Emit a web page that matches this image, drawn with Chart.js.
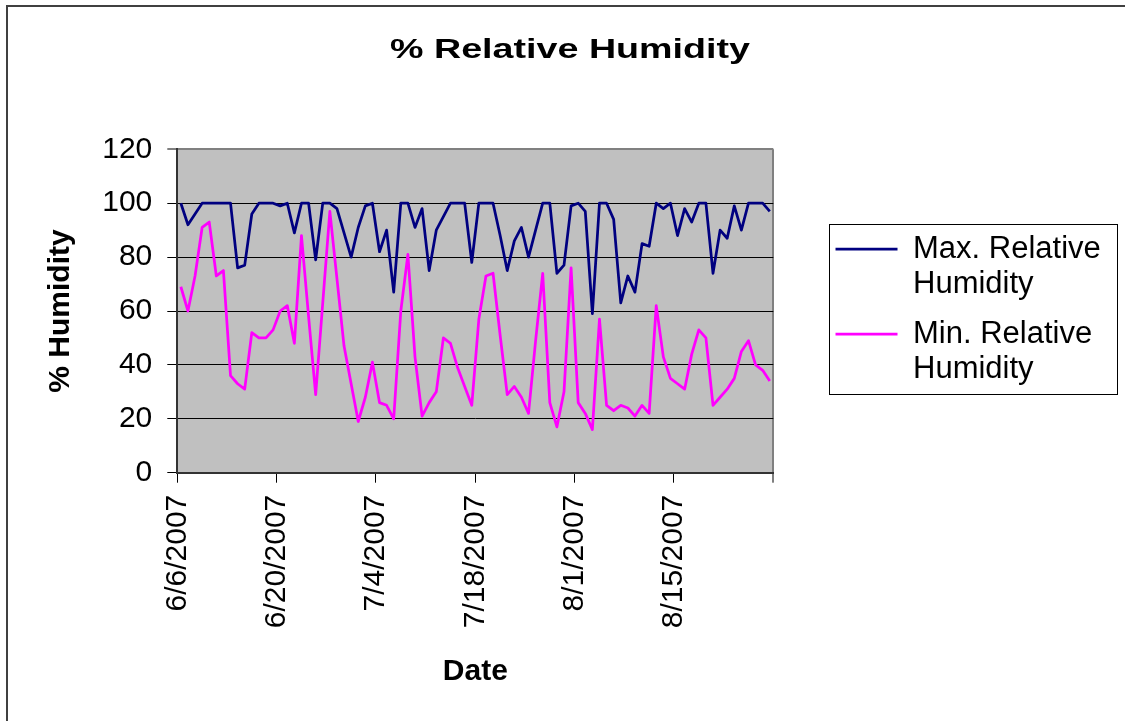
<!DOCTYPE html>
<html>
<head>
<meta charset="utf-8">
<title>% Relative Humidity</title>
<script src="https://cdn.jsdelivr.net/npm/chart.js@4.4.0/dist/chart.umd.min.js"></script>
<style>
    html, body { margin: 0; padding: 0; background: #fff; }
    canvas { display: block; }
</style>
</head>
<body>
<canvas id="humidityChart" width="1125" height="721"></canvas>
<script>
/* Data */
const dates = [
    '6/6/2007', '6/7/2007', '6/8/2007', '6/9/2007', '6/10/2007', '6/11/2007', '6/12/2007',
    '6/13/2007', '6/14/2007', '6/15/2007', '6/16/2007', '6/17/2007', '6/18/2007', '6/19/2007',
    '6/20/2007', '6/21/2007', '6/22/2007', '6/23/2007', '6/24/2007', '6/25/2007', '6/26/2007',
    '6/27/2007', '6/28/2007', '6/29/2007', '6/30/2007', '7/1/2007', '7/2/2007', '7/3/2007',
    '7/4/2007', '7/5/2007', '7/6/2007', '7/7/2007', '7/8/2007', '7/9/2007', '7/10/2007',
    '7/11/2007', '7/12/2007', '7/13/2007', '7/14/2007', '7/15/2007', '7/16/2007', '7/17/2007',
    '7/18/2007', '7/19/2007', '7/20/2007', '7/21/2007', '7/22/2007', '7/23/2007', '7/24/2007',
    '7/25/2007', '7/26/2007', '7/27/2007', '7/28/2007', '7/29/2007', '7/30/2007', '7/31/2007',
    '8/1/2007', '8/2/2007', '8/3/2007', '8/4/2007', '8/5/2007', '8/6/2007', '8/7/2007',
    '8/8/2007', '8/9/2007', '8/10/2007', '8/11/2007', '8/12/2007', '8/13/2007', '8/14/2007',
    '8/15/2007', '8/16/2007', '8/17/2007', '8/18/2007', '8/19/2007', '8/20/2007', '8/21/2007',
    '8/22/2007', '8/23/2007', '8/24/2007', '8/25/2007', '8/26/2007', '8/27/2007', '8/28/2007'
];

const max_rh = [
    100, 92, 96, 100, 100, 100, 100, 100, 76, 77, 96, 100, 100, 100,
    99, 100, 89, 100, 100, 79, 100, 100, 98, 89, 80, 91, 99, 100,
    82, 90, 67, 100, 100, 91, 98, 75, 90, 95, 100, 100, 100, 78,
    100, 100, 100, 88, 75, 86, 91, 80, 90, 100, 100, 74, 77, 99,
    100, 97, 59, 100, 100, 94, 63, 73, 67, 85, 84, 100, 98, 100,
    88, 98, 93, 100, 100, 74, 90, 87, 99, 90, 100, 100, 100, 97
];

const min_rh = [
    69, 60, 73, 91, 93, 73, 75, 36, 33, 31, 52, 50, 50, 53,
    60, 62, 48, 88, 58, 29, 63, 97, 72, 47, 33, 19, 28, 41,
    26, 25, 20, 60, 81, 43, 21, 26, 30, 50, 48, 39, 32, 25,
    57, 73, 74, 51, 29, 32, 28, 22, 49, 74, 26, 17, 30, 76,
    26, 22, 16, 57, 25, 23, 25, 24, 21, 25, 22, 62, 43, 35,
    33, 31, 44, 53, 50, 25, 28, 31, 35, 45, 49, 40, 38, 34
];

const tick_labels = ['6/6/2007', '6/20/2007', '7/4/2007', '7/18/2007', '8/1/2007', '8/15/2007'];
const series_names = [['Max. Relative', 'Humidity'], ['Min. Relative', 'Humidity']];
const chart_title = '% Relative Humidity';

const font_family = "'Liberation Sans', Arial, sans-serif";

/* Plot background, outer frame, title and legend frame */
const frame_plugin = {
    id: 'frame_plugin',
    beforeDraw(chart) {
        const { ctx, chartArea: a } = chart;
        ctx.save();
        ctx.fillStyle = '#c0c0c0';
        ctx.fillRect(a.left, a.top, a.right - a.left, a.bottom - a.top);
        ctx.strokeStyle = '#404040';
        ctx.lineWidth = 2;
        ctx.strokeRect(7, 6, 1300, 900);
        ctx.restore();
    },
    afterDraw(chart) {
        const ctx = chart.ctx;

        // the original title is drawn very wide, so stretch it sideways
        ctx.save();
        ctx.font = 'bold 27px ' + font_family;
        ctx.fillStyle = '#000';
        ctx.textAlign = 'center';
        ctx.textBaseline = 'alphabetic';
        const w = ctx.measureText(chart_title).width;
        ctx.translate(570, 58);
        ctx.scale(360 / w, 1);
        ctx.fillText(chart_title, 0, 0);
        ctx.restore();

        const boxes = chart.legend.legendHitBoxes;
        if (!boxes || !boxes.length) return;
        const first = boxes[0];
        const last = boxes[boxes.length - 1];
        ctx.save();
        ctx.strokeStyle = '#000';
        ctx.lineWidth = 1;
        const left = first.left - 7;
        const top = first.top - 10;
        const right = first.left + first.width + 16;
        const bottom = last.top + last.height + 5;
        ctx.strokeRect(Math.round(left) + 0.5, Math.round(top) + 0.5, Math.round(right - left), Math.round(bottom - top));
        ctx.restore();
    }
};

/* Create chart */
const my_chart = new Chart('humidityChart', {
    type: 'line',
    data: {
        datasets: [
            {
                label: series_names[0],
                data: dates.map((d, i) => ({ x: i + 0.5, y: max_rh[i] })),
                borderColor: '#000080',
                backgroundColor: '#000080',
                borderWidth: 2.75,
                borderJoinStyle: 'round',
                pointRadius: 0,
                tension: 0
            },
            {
                label: series_names[1],
                data: dates.map((d, i) => ({ x: i + 0.5, y: min_rh[i] })),
                borderColor: '#ff00ff',
                backgroundColor: '#ff00ff',
                borderWidth: 2.75,
                borderJoinStyle: 'round',
                pointRadius: 0,
                tension: 0
            }
        ]
    },
    options: {
        responsive: false,
        animation: false,
        events: [],
        layout: {
            padding: { top: 149.3, right: 14.2, bottom: 0, left: 0 }
        },
        scales: {
            x: {
                type: 'linear',
                position: 'bottom',
                min: 0,
                max: 84,
                ticks: {
                    stepSize: 14,
                    autoSkip: false,
                    minRotation: 90,
                    maxRotation: 90,
                    padding: 12,
                    color: '#000',
                    font: { family: font_family, size: 30 },
                    callback: (value) => tick_labels[value / 14] || ''
                },
                grid: {
                    drawOnChartArea: true,
                    color: (c) => (c.tick && c.tick.value === 84 ? '#808080' : 'rgba(0,0,0,0)'),
                    lineWidth: (c) => (c.tick && c.tick.value === 84 ? 2 : 1),
                    tickLength: 10,
                    tickColor: '#000',
                    tickWidth: 1
                },
                border: { color: '#333', width: 2 },
                title: {
                    display: true,
                    text: 'Date',
                    color: '#000',
                    font: { family: font_family, size: 30, weight: 'bold' },
                    padding: { top: 0, bottom: 31 }
                },
                afterFit(scale) { scale.height = 248.3; }
            },
            y: {
                type: 'linear',
                position: 'left',
                min: 0,
                max: 120,
                ticks: {
                    stepSize: 20,
                    padding: 15,
                    color: '#000',
                    font: { family: font_family, size: 30 }
                },
                grid: {
                    color: (c) => (c.tick && c.tick.value === 120 ? '#808080' : '#000'),
                    lineWidth: (c) => (c.tick && c.tick.value === 120 ? 2 : 1),
                    tickLength: 10,
                    tickColor: '#000',
                    tickWidth: 1
                },
                border: { color: '#333', width: 2 },
                title: {
                    display: true,
                    text: '% Humidity',
                    color: '#000',
                    font: { family: font_family, size: 30, weight: 'bold' },
                    padding: { top: 43, bottom: 0 }
                },
                afterFit(scale) { scale.width = 177.3; }
            },
            // empty space between the plot and the legend
            gap: {
                type: 'linear',
                position: 'right',
                display: true,
                grid: { display: false },
                ticks: { display: false },
                border: { display: false },
                afterFit(scale) { scale.width = 47.2; }
            }
        },
        plugins: {
            title: { display: false },
            tooltip: { enabled: false },
            legend: {
                position: 'right',
                fullSize: false,
                maxWidth: 400,
                labels: {
                    usePointStyle: true,
                    pointStyle: 'line',
                    pointStyleWidth: 62,
                    padding: 15,
                    color: '#000',
                    font: { family: font_family, size: 31, lineHeight: 35 / 31 }
                }
            }
        }
    },
    plugins: [frame_plugin]
});
</script>
</body>
</html>
